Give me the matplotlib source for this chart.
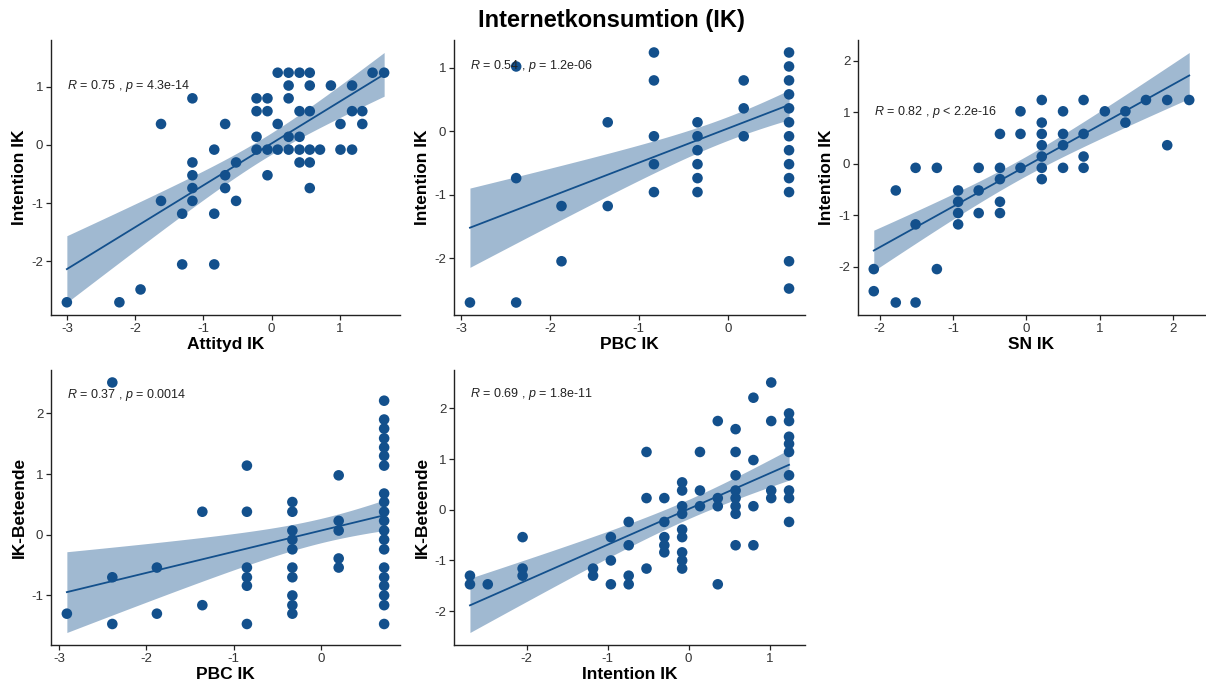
import numpy as np
import matplotlib
matplotlib.use("Agg")
import matplotlib.pyplot as plt
from matplotlib.ticker import MultipleLocator

plt.rcParams['font.family'] = ['Liberation Sans', 'DejaVu Sans']
plt.rcParams['mathtext.fontset'] = 'custom'
plt.rcParams['mathtext.rm'] = 'Liberation Sans'
plt.rcParams['mathtext.it'] = 'Liberation Sans:italic'
plt.rcParams['axes.unicode_minus'] = False

blue = "#13508c"

# Panel 1: Attityd IK vs Intention IK
att_x = [-3.0, -2.23, -1.92, -1.62, -1.62, -1.31, -1.31, -1.16, -1.16, -1.16, -1.16, -1.16,
         -0.84, -0.84, -0.84, -0.68, -0.68, -0.68, -0.52, -0.52,
         -0.22, -0.22, -0.22, -0.22, -0.06, -0.06, -0.06, -0.06, 0.09, 0.09, 0.09,
         0.25, 0.25, 0.25, 0.25, 0.25, 0.41, 0.41, 0.41, 0.41, 0.41,
         0.56, 0.56, 0.56, 0.56, 0.56, 0.56, 0.71, 0.87, 1.01, 1.01,
         1.18, 1.18, 1.18, 1.33, 1.33, 1.48, 1.65]
att_y = [-2.7, -2.7, -2.48, 0.36, -0.96, -2.05, -1.18, 0.80, -0.30, -0.52, -0.74, -0.96,
         -0.08, -1.18, -2.05, 0.36, -0.52, -0.74, -0.30, -0.96,
         0.80, 0.58, 0.14, -0.08, 0.80, 0.58, -0.08, -0.52, 1.24, 0.36, -0.08,
         1.24, 1.02, 0.80, 0.14, -0.08, 1.24, 0.58, 0.14, -0.08, -0.30,
         1.24, 1.02, 0.58, -0.08, -0.30, -0.74, -0.08, 1.02, 0.36, -0.08,
         1.02, 0.58, -0.08, 0.58, 0.36, 1.24, 1.24]

# Panel 2: PBC IK vs Intention IK (visible points, then estimated overlapping duplicates)
pbc_x = [-2.9, -2.38, -2.38, -2.38, -1.87, -1.87, -1.35, -1.35,
         -0.83, -0.83, -0.83, -0.83, -0.83,
         -0.34, -0.34, -0.34, -0.34, -0.34, -0.34, 0.18, 0.18, 0.18,
         0.69, 0.69, 0.69, 0.69, 0.69, 0.69, 0.69, 0.69, 0.69, 0.69, 0.69, 0.69, 0.69,
         -0.83, 0.18, 0.18] + [-0.34] * 9 + [0.69] * 25
pbc_int_y = [-2.7, -2.7, 1.02, -0.74, -1.18, -2.05, 0.14, -1.18,
             1.24, 0.80, -0.08, -0.52, -0.96,
             0.14, -0.08, -0.30, -0.52, -0.74, -0.96, 0.80, 0.36, -0.08,
             1.24, 1.02, 0.80, 0.58, 0.36, 0.14, -0.08, -0.30, -0.52, -0.74, -0.96, -2.05, -2.48,
             -0.52, 0.36, -0.08,
             0.14, 0.14, 0.14, -0.08, -0.08, -0.08, -0.30, -0.30, -0.30,
             1.24, 1.24, 1.24, 1.24, 1.02, 1.02, 1.02, 1.02, 1.02,
             0.80, 0.80, 0.80, 0.80, 0.58, 0.58, 0.58, 0.58, 0.58,
             0.36, 0.36, 0.36, 0.14, 0.14, 0.14, -0.08]

# Panel 3: SN IK vs Intention IK
sn_x = [-2.08, -2.08, -1.78, -1.78, -1.51, -1.51, -1.51, -1.22, -1.22,
        -0.93, -0.93, -0.93, -0.93, -0.65, -0.65, -0.65,
        -0.36, -0.36, -0.36, -0.36, -0.36, -0.08, -0.08, -0.08,
        0.21, 0.21, 0.21, 0.21, 0.21, 0.21, 0.21, 0.50, 0.50, 0.50, 0.50,
        0.78, 0.78, 0.78, 0.78, 1.07, 1.35, 1.35, 1.63, 1.92, 1.92, 2.22]
sn_y = [-2.05, -2.48, -2.7, -0.52, -2.7, -1.18, -0.08, -0.08, -2.05,
        -0.52, -0.74, -0.96, -1.18, -0.08, -0.52, -0.96,
        0.58, -0.08, -0.30, -0.74, -0.96, 1.02, 0.58, -0.08,
        1.24, 0.80, 0.58, 0.36, 0.14, -0.08, -0.30, 1.02, 0.58, 0.36, -0.08,
        1.24, 0.58, 0.14, -0.08, 1.02, 1.02, 0.80, 1.24, 1.24, 0.36, 1.24]

# Panel 4: PBC IK vs IK-Beteende (visible points, then estimated overlapping duplicates)
pbc2_x = [-2.91, -2.39, -2.39, -2.39, -1.88, -1.88, -1.36, -1.36,
          -0.85, -0.85, -0.85, -0.85, -0.85, -0.85,
          -0.33, -0.33, -0.33, -0.33, -0.33, -0.33, -0.33, -0.33, -0.33, -0.33,
          0.20, 0.20, 0.20, 0.20, 0.20] + [0.72] * 20 + [-0.33] * 5 + [0.72] * 18
beh_y = [-1.30, 2.51, -0.70, -1.47, -0.54, -1.30, 0.38, -1.16,
         1.14, 0.38, -0.54, -0.70, -0.84, -1.47,
         0.54, 0.38, 0.07, -0.08, -0.24, -0.54, -0.70, -1.00, -1.16, -1.30,
         0.98, 0.23, 0.07, -0.39, -0.54,
         2.21, 1.90, 1.75, 1.59, 1.44, 1.30, 1.14, 0.68, 0.54, 0.38, 0.23, 0.07,
         -0.08, -0.24, -0.54, -0.70, -0.84, -1.00, -1.16, -1.47,
         -0.08, -0.24, -0.24, 0.07, 0.07,
         1.14, 1.14, 1.14, 0.68, 0.68, 0.68, 0.54, 0.54, 0.54,
         0.38, 0.38, 0.38, 0.07, 0.07, 0.07, -0.08, -0.08, -0.08]

# Panel 5: Intention IK vs IK-Beteende
int_x = [-2.7, -2.7, -2.48, -2.05, -2.05, -2.05, -1.18, -1.18,
         -0.96, -0.96, -0.96, -0.74, -0.74, -0.74, -0.74, -0.52, -0.52, -0.52,
         -0.30, -0.30, -0.30, -0.30, -0.30,
         -0.08, -0.08, -0.08, -0.08, -0.08, -0.08, -0.08, -0.08, -0.08,
         0.14, 0.14, 0.14, 0.36, 0.36, 0.36, 0.36,
         0.58, 0.58, 0.58, 0.58, 0.58, 0.58, 0.58, 0.58,
         0.80, 0.80, 0.80, 0.80, 1.02, 1.02, 1.02, 1.02,
         1.24, 1.24, 1.24, 1.24, 1.24, 1.24, 1.24, 1.24, 1.24]
int_beh_y = [-1.30, -1.47, -1.47, -0.54, -1.16, -1.30, -1.16, -1.30,
             -0.54, -1.00, -1.47, -0.24, -0.70, -1.30, -1.47, 1.14, 0.23, -1.16,
             0.23, -0.24, -0.54, -0.70, -0.84,
             0.54, 0.38, 0.07, -0.08, -0.39, -0.54, -0.84, -1.00, -1.16,
             1.14, 0.38, 0.07, 1.75, 0.23, 0.07, -1.47,
             1.59, 1.14, 0.68, 0.38, 0.23, 0.07, -0.08, -0.70,
             2.21, 0.98, 0.07, -0.70, 2.51, 1.75, 0.38, 0.23,
             1.90, 1.75, 1.44, 1.30, 1.14, 0.68, 0.38, 0.23, -0.24]

panels = [
    (att_x, att_y, "Attityd IK", "Intention IK", "$R$ = 0.75 , $p$ = 4.3e-14", 1.02),
    (pbc_x, pbc_int_y, "PBC IK", "Intention IK", "$R$ = 0.54 , $p$ = 1.2e-06", 1.02),
    (sn_x, sn_y, "SN IK", "Intention IK", "$R$ = 0.82 , $p$ < 2.2e-16", 1.0),
    (pbc2_x, beh_y, "PBC IK", "IK-Beteende", "$R$ = 0.37 , $p$ = 0.0014", 2.3),
    (int_x, int_beh_y, "Intention IK", "IK-Beteende", "$R$ = 0.69 , $p$ = 1.8e-11", 2.28),
]

W, H = 1206, 688
boxes = [(51, 40, 400, 315), (454, 40, 805, 315), (858, 40, 1205, 315),
         (51, 370, 400, 645), (454, 370, 805, 645)]

fig = plt.figure(figsize=(W / 100, H / 100), dpi=100)
fig.text(611 / W, 1 - 20 / H, "Internetkonsumtion (IK)", ha="center", va="center",
         fontsize=17, fontweight="bold")

for (x, y, xl, yl, lab, ly), (l, t, r, b) in zip(panels, boxes):
    ax = fig.add_axes([l / W, 1 - b / H, (r - l) / W, (b - t) / H])
    x = np.array(x)
    y = np.array(y)
    # overlapping duplicates drawn once
    pts = np.unique(np.column_stack([x, y]), axis=0)
    ax.scatter(pts[:, 0], pts[:, 1], s=58, color=blue, edgecolors="none", zorder=2)

    # linear fit + 95% CI
    n = len(x)
    slope, icpt = np.polyfit(x, y, 1)
    resid = y - (slope * x + icpt)
    s = np.sqrt(np.sum(resid ** 2) / (n - 2))
    xs = np.linspace(x.min(), x.max(), 80)
    yhat = slope * xs + icpt
    se = s * np.sqrt(1 / n + (xs - x.mean()) ** 2 / np.sum((x - x.mean()) ** 2))
    ax.fill_between(xs, yhat - 2.0 * se, yhat + 2.0 * se, color=blue, alpha=0.4,
                    linewidth=0, zorder=3)
    ax.plot(xs, yhat, color=blue, lw=1.3, zorder=4)

    ax.text(x.min(), ly, lab, ha="left", va="center", fontsize=9, color="#222222", zorder=5)

    ax.margins(0.05)
    ax.xaxis.set_major_locator(MultipleLocator(1))
    ax.yaxis.set_major_locator(MultipleLocator(1))
    for sp in ["top", "right"]:
        ax.spines[sp].set_visible(False)
    for sp in ["left", "bottom"]:
        ax.spines[sp].set_linewidth(1.0)
        ax.spines[sp].set_color("#222222")
    ax.tick_params(direction="out", length=3.5, width=0.9, labelsize=9.5, pad=2,
                   color="#222222", labelcolor="#333333")
    ax.set_xlabel(xl, fontsize=12.5, fontweight="bold", labelpad=2)
    ax.set_ylabel(yl, fontsize=12.5, fontweight="bold", labelpad=3)

fig.savefig("out.png", dpi=100)
